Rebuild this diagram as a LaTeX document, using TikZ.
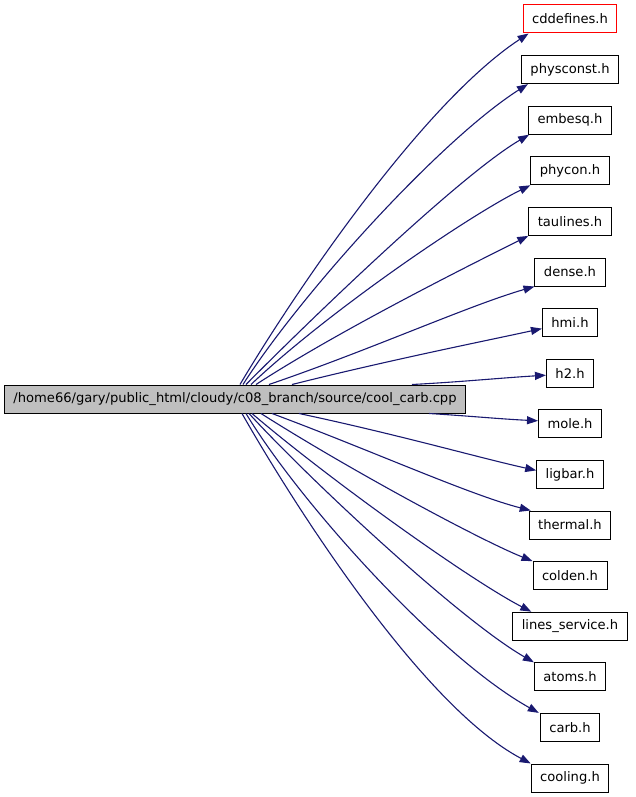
\documentclass[tikz,border=0pt]{standalone}
\usepackage{fontspec}
\setmainfont{DejaVu Sans}
\usetikzlibrary{arrows.meta,calc}
\definecolor{edgeblue}{HTML}{191970}
\definecolor{srcgray}{HTML}{BFBFBF}
\tikzset{
    include graph/.style = {x=1pt, y=-1pt,
                            >={Triangle[length=11pt, width=8pt]},
                            font=\fontsize{13.1}{15}\selectfont},
    line/.style          = {draw=edgeblue, line width=1.1pt},
    file/.style          = {draw, line width=1pt, fill=white,
                            minimum height=28pt, inner xsep=9pt, inner ysep=0pt},
    source/.style        = {file, fill=srcgray, minimum width=460pt},
    header/.style        = {file},
    missing/.style       = {header, draw=red}
}
\def\headcol{570}
\def\rowstep{50.6}

\begin{document}
\begin{tikzpicture}[include graph]
\useasboundingbox (0,0) rectangle (635,797);
\coordinate (origin) at (0,19);
\node[source] (coolcarb) at (235,399)
  {/home66/gary/public\_html/cloudy/c08\_branch/source/cool\_carb.cpp};

% included headers, one per row
\node[missing] (cddefines) at ($(origin)+(\headcol,0*\rowstep)$) {cddefines.h};
\node[header] (physconst) at ($(origin)+(\headcol,1*\rowstep)$) {physconst.h};
\node[header] (embesq) at ($(origin)+(\headcol,2*\rowstep)$) {embesq.h};
\node[header] (phycon) at ($(origin)+(\headcol,3*\rowstep)$) {phycon.h};
\node[header] (taulines) at ($(origin)+(\headcol,4*\rowstep)$) {taulines.h};
\node[header] (dense) at ($(origin)+(\headcol,5*\rowstep)$) {dense.h};
\node[header] (hmi) at ($(origin)+(\headcol,6*\rowstep)$) {hmi.h};
\node[header] (htwo) at ($(origin)+(\headcol,7*\rowstep)$) {h2.h};
\node[header] (mole) at ($(origin)+(\headcol,8*\rowstep)$) {mole.h};
\node[header] (ligbar) at ($(origin)+(\headcol,9*\rowstep)$) {ligbar.h};
\node[header] (thermal) at ($(origin)+(\headcol,10*\rowstep)$) {thermal.h};
\node[header] (colden) at ($(origin)+(\headcol,11*\rowstep)$) {colden.h};
\node[header] (lineserv) at ($(origin)+(\headcol,12*\rowstep)$) {lines\_service.h};
\node[header] (atoms) at ($(origin)+(\headcol,13*\rowstep)$) {atoms.h};
\node[header] (carb) at ($(origin)+(\headcol,14*\rowstep)$) {carb.h};
\node[header] (cooling) at ($(origin)+(\headcol,15*\rowstep)$) {cooling.h};

% edges leaving the top of the source box
\draw[->, line] ([xshift=236pt]coolcarb.north west)
  .. controls (290,300) and (420,105) .. ([xshift=6pt]cddefines.south west);
\draw[->, line] ([xshift=239pt]coolcarb.north west)
  .. controls (300,295) and (440,140) .. ([xshift=7pt]physconst.south west);
\draw[->, line] ([xshift=242pt]coolcarb.north west)
  .. controls (310,320) and (460,175) .. ([xshift=1pt]embesq.south west);
\draw[->, line] ([xshift=247pt]coolcarb.north west)
  .. controls (330,310) and (470,215) .. (phycon.south west);
\draw[->, line] ([xshift=252pt]coolcarb.north west)
  .. controls (340,330) and (470,265) .. (taulines.south west);
\draw[->, line] ([xshift=265pt]coolcarb.north west)
  .. controls (370,350) and (470,305) .. (dense.south west);
\draw[->, line] ([xshift=288pt]coolcarb.north west)
  .. controls (390,360) and (480,342) .. ([yshift=-6pt]hmi.west);
\draw[->, line] ([xshift=408pt]coolcarb.north west)
  .. controls (460,382) and (500,378) .. ([yshift=-2pt]htwo.west);

% edges leaving the bottom of the source box
\draw[->, line] ([xshift=425pt]coolcarb.south west)
  .. controls (470,416) and (500,419) .. ([yshift=3pt]mole.west);
\draw[->, line] ([xshift=295pt]coolcarb.south west)
  .. controls (400,435) and (480,458) .. ([yshift=4pt]ligbar.west);
\draw[->, line] ([xshift=268pt]coolcarb.south west)
  .. controls (370,450) and (470,495) .. ([xshift=2pt]thermal.north west);
\draw[->, line] ([xshift=257pt]coolcarb.south west)
  .. controls (350,470) and (480,540) .. (colden.north west);
\draw[->, line] ([xshift=248pt]coolcarb.south west)
  .. controls (330,480) and (470,580) .. ([xshift=19pt]lineserv.north west);
\draw[->, line] ([xshift=245pt]coolcarb.south west)
  .. controls (310,480) and (460,620) .. (atoms.north west);
\draw[->, line] ([xshift=242pt]coolcarb.south west)
  .. controls (300,503) and (440,658) .. ([xshift=-1pt]carb.north west);
\draw[->, line] ([xshift=238pt]coolcarb.south west)
  .. controls (290,498) and (420,705) .. (cooling.north west);

\end{tikzpicture}
\end{document}
